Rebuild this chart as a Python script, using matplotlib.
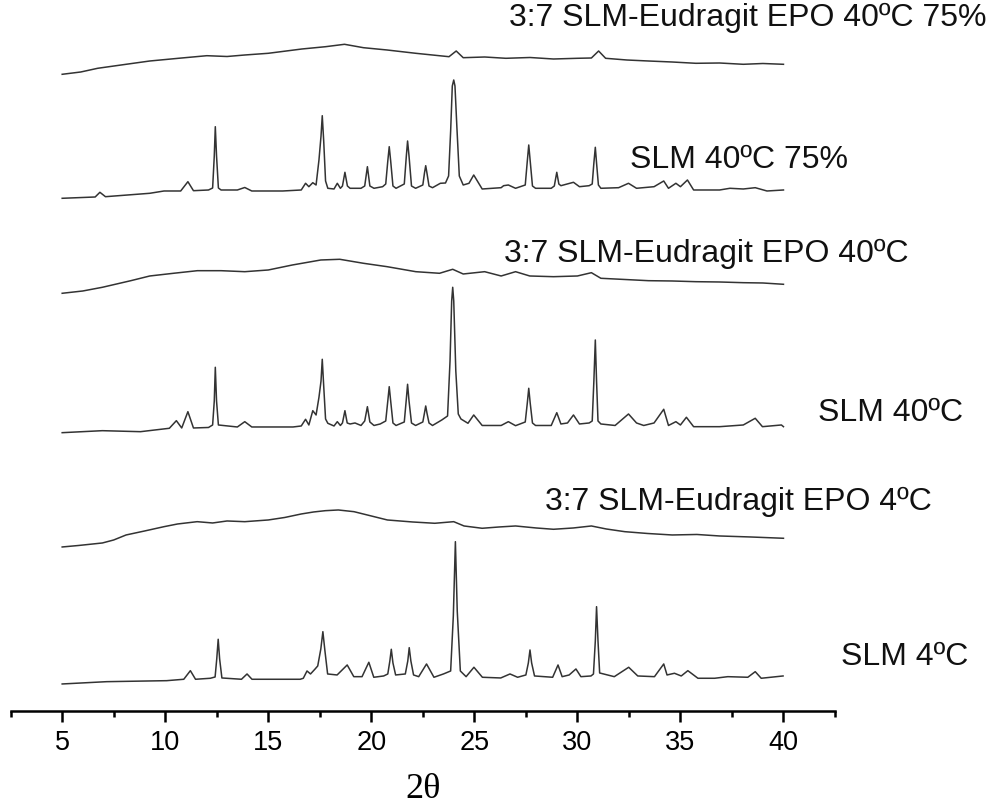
import matplotlib.pyplot as plt
from matplotlib.ticker import MultipleLocator

plt.rcParams['font.family'] = ['Liberation Sans', 'DejaVu Sans']

# traces as (2theta, stacked intensity) pairs
slm4 = [(5.0, 27), (7.16, 29.3), (10.07, 30.3), (10.9, 31.7), (11.22, 40.3), (11.47, 31.7),
        (12.19, 32.7), (12.42, 34), (12.5, 52), (12.57, 71.7), (12.64, 52), (12.75, 33),
        (13.7, 31.7), (13.97, 37), (14.21, 31.7), (16.55, 31.7), (16.7, 32.7), (16.88, 40),
        (17.05, 37), (17.26, 41.7), (17.4, 45), (17.55, 62), (17.65, 79.3), (17.75, 60),
        (17.88, 37), (18.34, 36), (18.83, 46), (19.15, 34.3), (19.55, 34.3), (19.88, 48.7),
        (20.12, 33.7), (20.6, 35), (20.8, 37), (20.9, 50), (20.97, 61.7), (21.05, 48),
        (21.18, 36), (21.65, 37), (21.77, 50), (21.84, 63.3), (21.92, 50), (22.05, 36),
        (22.3, 34.3), (22.68, 47), (23.04, 33.7), (23.5, 37), (23.85, 40), (23.98, 95),
        (24.08, 169.3), (24.17, 100), (24.32, 40), (24.6, 34.3), (24.98, 43.7), (25.39, 33.7),
        (26.28, 33), (26.73, 37), (27.1, 33.7), (27.5, 36), (27.62, 48), (27.7, 61),
        (27.78, 48), (27.92, 35), (28.8, 33.7), (29.06, 46), (29.26, 34.3), (29.6, 36),
        (29.93, 42), (30.17, 34.3), (30.66, 35), (30.78, 37), (30.87, 70), (30.93, 104.3),
        (31.0, 70), (31.08, 38), (31.79, 34.3), (32.49, 43.7), (32.93, 35), (33.74, 34.3),
        (34.19, 47), (34.35, 36), (34.71, 37.7), (35.04, 35), (35.36, 40.3), (35.85, 32.7),
        (36.66, 32.7), (37.3, 34.3), (38.27, 33.7), (38.63, 39.3), (38.92, 32.7), (39.98, 35)]

epo4 = [(5.0, 164), (5.8, 165.5), (6.95, 168), (7.5, 171), (8.1, 176), (9.0, 180),
        (9.94, 184.3), (10.6, 187), (11.55, 189.3), (12.3, 188), (13.0, 190), (13.86, 189.3),
        (15.0, 191), (15.8, 193.5), (16.6, 197), (17.2, 199), (17.77, 200.3), (18.4, 201),
        (19.16, 199.3), (20.0, 195), (20.78, 191), (22.0, 189), (23.08, 187.7), (24.0, 189.3),
        (24.5, 185), (25.38, 182.7), (26.2, 184), (27.0, 185), (28.0, 183), (28.84, 181.7),
        (29.8, 183), (30.68, 185), (31.4, 182), (32.3, 179.3), (33.4, 177.5), (34.6, 176),
        (35.8, 176.5), (36.9, 175), (38.4, 174), (40.0, 172.7)]

slm40 = [(5.0, 278.3), (6.95, 280.3), (8.8, 279.3), (10.2, 282.7), (10.54, 290.3), (10.8, 283),
         (11.1, 299.3), (11.37, 283), (12.1, 283.5), (12.3, 286), (12.38, 310), (12.43, 343.7),
         (12.49, 310), (12.58, 286), (13.5, 284), (13.86, 289.3), (14.2, 284), (16.2, 284),
         (16.6, 285), (16.81, 291.7), (16.97, 286), (17.16, 300.3), (17.32, 296), (17.46, 313.7),
         (17.56, 330), (17.62, 351.7), (17.69, 325), (17.78, 292), (17.89, 287.7), (18.19, 285),
         (18.35, 289.3), (18.5, 285.5), (18.6, 288), (18.72, 300.3), (18.83, 288), (18.97, 287),
         (19.21, 288), (19.5, 285.5), (19.68, 290), (19.81, 304.3), (19.93, 289), (20.13, 285.5),
         (20.43, 287), (20.7, 290), (20.8, 310), (20.87, 324.3), (20.94, 310), (21.05, 288),
         (21.2, 285.5), (21.6, 289), (21.7, 312), (21.76, 326.7), (21.83, 310), (21.95, 288),
         (22.15, 285.5), (22.5, 289), (22.58, 298), (22.64, 305), (22.7, 298), (22.8, 288),
         (22.97, 285.5), (23.42, 291), (23.7, 295), (23.82, 350), (23.9, 410), (23.95, 423.7),
         (24.0, 410), (24.1, 340), (24.22, 297), (24.35, 292), (24.69, 287.7), (24.97, 296),
         (25.38, 285.5), (26.3, 285.5), (26.65, 289.3), (27.0, 285.3), (27.47, 289), (27.57, 308),
         (27.64, 322.7), (27.71, 308), (27.82, 288), (27.97, 285.5), (28.73, 285.5), (29.0, 298.3),
         (29.2, 287), (29.52, 288), (29.81, 296), (30.1, 287), (30.57, 288), (30.72, 290),
         (30.8, 330), (30.87, 371), (30.93, 330), (31.0, 290), (31.14, 287), (31.83, 285.5),
         (32.48, 297), (32.87, 288), (33.22, 285.5), (33.72, 288), (34.19, 301.7), (34.42, 285.5),
         (34.78, 289.3), (35.0, 286), (35.29, 293.7), (35.64, 284.3), (36.9, 284.3), (38.05, 286),
         (38.63, 292.7), (38.98, 284.3), (39.9, 286), (40.0, 284.3)]

epo40 = [(5.0, 417.7), (6.0, 420), (6.95, 423.7), (8.33, 430.3), (9.25, 435), (10.4, 437.7),
         (11.56, 440.3), (12.71, 440.3), (13.86, 439.3), (15.0, 441), (16.17, 446), (17.55, 451),
         (18.47, 451.7), (19.62, 447.7), (20.77, 444.3), (22.16, 439.3), (23.31, 437.7),
         (23.95, 441.7), (24.46, 437), (25.5, 439.3), (26.3, 435), (27.0, 439.3), (27.69, 435),
         (28.84, 434.3), (30.0, 435), (30.68, 438.3), (31.14, 432.7), (32.3, 431.5),
         (33.45, 430.3), (34.6, 430), (35.75, 429.3), (36.9, 429), (38.05, 428.3), (39.0, 428),
         (40.0, 426.7)]

slm40h = [(5.0, 512.7), (6.6, 514), (6.83, 518.7), (7.1, 514.3), (9.25, 517.7), (9.94, 520),
          (10.75, 520), (11.1, 529.3), (11.37, 520.3), (12.1, 521), (12.3, 523), (12.38, 555),
          (12.43, 584.3), (12.49, 555), (12.58, 523), (12.71, 521), (13.5, 521), (13.86, 523.5),
          (14.2, 520), (15.7, 520), (16.6, 521), (16.81, 527.7), (16.97, 524.3), (17.16, 528.3),
          (17.32, 526), (17.46, 551), (17.56, 575), (17.62, 595.3), (17.69, 570), (17.78, 530),
          (17.89, 522.7), (18.19, 522), (18.35, 527.7), (18.5, 522.7), (18.6, 525), (18.72, 538.7),
          (18.84, 525), (18.97, 522.7), (19.5, 522.7), (19.68, 525), (19.81, 544.3), (19.93, 525),
          (20.13, 522.7), (20.55, 524.3), (20.7, 527), (20.8, 550), (20.87, 564.3), (20.94, 550),
          (21.05, 525), (21.2, 522.7), (21.6, 527), (21.7, 555), (21.76, 570), (21.83, 555),
          (21.95, 525), (22.15, 522.7), (22.5, 526), (22.58, 538), (22.64, 545.3), (22.7, 538),
          (22.8, 525), (22.97, 523.3), (23.35, 527.7), (23.6, 528), (23.75, 535), (23.85, 580),
          (23.93, 625), (24.0, 631), (24.06, 625), (24.15, 585), (24.27, 535), (24.46, 526),
          (24.74, 527.7), (24.97, 536), (25.38, 522), (26.3, 523.3), (26.42, 525.3), (26.65, 526),
          (27.0, 522.7), (27.47, 526), (27.57, 550), (27.64, 566), (27.71, 550), (27.82, 525),
          (27.97, 522.7), (28.73, 522.7), (28.88, 525), (29.0, 538.7), (29.1, 527), (29.2, 525.3),
          (29.81, 528.7), (30.1, 524.3), (30.57, 525.3), (30.72, 527), (30.8, 548), (30.87, 563.7),
          (30.93, 548), (31.02, 526), (31.14, 522.7), (32.0, 523.3), (32.48, 527.7), (32.87, 522.7),
          (33.72, 524.3), (34.19, 530), (34.42, 522.7), (34.78, 527.7), (35.0, 524.3), (35.34, 531),
          (35.64, 521), (36.9, 521), (37.4, 522.7), (38.05, 522), (38.63, 523.3), (39.2, 520),
          (40.0, 521)]

epo40h = [(5.0, 636.7), (5.9, 639), (6.72, 642.7), (8.1, 646.7), (9.25, 650), (10.64, 652.7),
          (12.02, 655.3), (13.0, 654.5), (13.86, 656), (15.0, 657.7), (16.63, 662), (17.78, 664.3),
          (18.7, 666.7), (19.62, 663.3), (20.77, 661), (22.16, 657.7), (23.77, 654.3), (24.12, 660),
          (24.46, 653.3), (25.5, 654), (26.53, 652.7), (27.7, 653.5), (28.84, 652), (29.99, 652.7),
          (30.68, 653), (31.03, 660), (31.37, 652.7), (32.4, 651), (33.45, 650), (34.6, 649),
          (35.75, 647.7), (36.9, 648), (38.05, 646.7), (39.0, 647.5), (40.0, 646.7)]

traces = [slm4, epo4, slm40, epo40, slm40h, epo40h]

labels = ['SLM 4ºC', '3:7 SLM-Eudragit EPO 4ºC', 'SLM 40ºC',
          '3:7 SLM-Eudragit EPO 40ºC', 'SLM 40ºC 75%', '3:7 SLM-Eudragit EPO 40ºC 75%']
# right edge (2theta) and height of each label
label_pos = [(48.98, 54), (47.18, 209), (48.73, 298), (46.06, 457), (43.14, 551), (49.86, 693)]

fig = plt.figure(figsize=(9.97, 8.07), dpi=100)
ax = fig.add_axes([0.0107, 0.119, 0.8268, 0.881])

for tr in traces:
    x, y = zip(*tr)
    ax.plot(x, y, color='#333333', lw=1.1)

for txt, (lx, ly) in zip(labels, label_pos):
    ax.text(lx, ly, txt, ha='right', va='center', fontsize=23, color='#111111', clip_on=False)

ax.set_xlim(2.5, 42.5)
ax.set_ylim(0, 711)
for s in ['left', 'right', 'top']:
    ax.spines[s].set_visible(False)
ax.spines['bottom'].set_linewidth(1.8)
ax.set_yticks([])
ax.xaxis.set_major_locator(MultipleLocator(5))
ax.xaxis.set_minor_locator(MultipleLocator(2.5))
ax.set_xticks(range(5, 41, 5))
ax.tick_params(axis='x', which='major', direction='out', length=8, width=1.8, labelsize=19.5, pad=6)
ax.tick_params(axis='x', which='minor', direction='out', length=4, width=1.8)
ax.set_xlabel('2θ', fontfamily='Liberation Serif', fontsize=26, labelpad=12)

fig.savefig('out.png', dpi=100)
